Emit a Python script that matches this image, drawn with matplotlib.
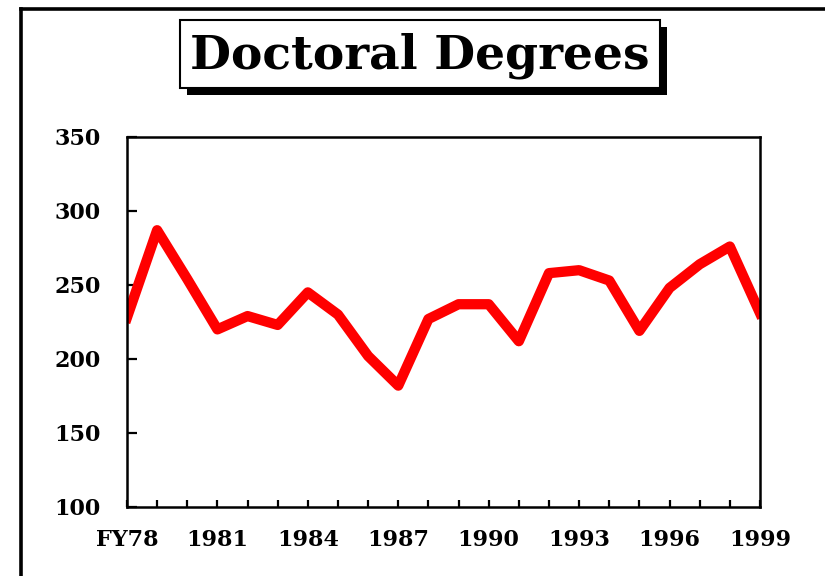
import matplotlib
matplotlib.use('Agg')
import matplotlib.pyplot as plt
from matplotlib.lines import Line2D
from matplotlib.patches import Rectangle

years = list(range(1978, 2000))
degrees = [228, 287, 254, 220, 229, 223, 245, 230, 202, 182, 227,
           237, 237, 212, 258, 260, 253, 219, 248, 264, 276, 231]
label_years = [1978, 1981, 1984, 1987, 1990, 1993, 1996, 1999]
label_text = ['FY78', '1981', '1984', '1987', '1990', '1993', '1996', '1999']
y_ticks = [100, 150, 200, 250, 300, 350]

plt.rcParams['font.family'] = ['DejaVu Serif']
plt.rcParams['font.weight'] = 'bold'

fig = plt.figure(figsize=(8.25, 5.76), dpi=100)
ax = fig.add_axes([0.1539, 0.1198, 0.7673, 0.6424])

ax.plot(years, degrees, color='#ff0000', lw=7.4, solid_joinstyle='round')

ax.set_xlim(1978, 1999)
ax.set_ylim(100, 350)
ax.set_yticks(y_ticks)
ax.set_xticks(years)
ax.set_xticklabels([label_text[label_years.index(y)] if y in label_years else '' for y in years])
ax.tick_params(axis='y', direction='in', length=7, width=1.6, pad=19, labelsize=16)
ax.tick_params(axis='x', direction='in', length=5, width=1.6, pad=16, labelsize=16)
for s in ax.spines.values():
    s.set_linewidth(1.8)
for lab in ax.get_xticklabels() + ax.get_yticklabels():
    lab.set_fontweight('bold')

# outer frame (cut off at right and bottom)
fig.add_artist(Line2D([21/825, 21/825], [0, 1 - 9/576], transform=fig.transFigure, color='k', lw=2.6))
fig.add_artist(Line2D([21/825, 1], [1 - 9/576, 1 - 9/576], transform=fig.transFigure, color='k', lw=2.6))

# title box with drop shadow
bx0, bx1, by0, by1 = 180, 660, 20, 88
fig.add_artist(Rectangle(((bx0 + 7) / 825, 1 - (by1 + 7) / 576), (bx1 - bx0) / 825, (by1 - by0) / 576,
                         transform=fig.transFigure, facecolor='k', edgecolor='k', lw=0))
fig.add_artist(Rectangle((bx0 / 825, 1 - by1 / 576), (bx1 - bx0) / 825, (by1 - by0) / 576,
                         transform=fig.transFigure, facecolor='white', edgecolor='k', lw=1.5))
fig.text((bx0 + bx1) / 2 / 825, 1 - 56 / 576, 'Doctoral Degrees', ha='center', va='center',
         fontsize=34, fontweight='bold')

fig.savefig('out.png', dpi=100)
